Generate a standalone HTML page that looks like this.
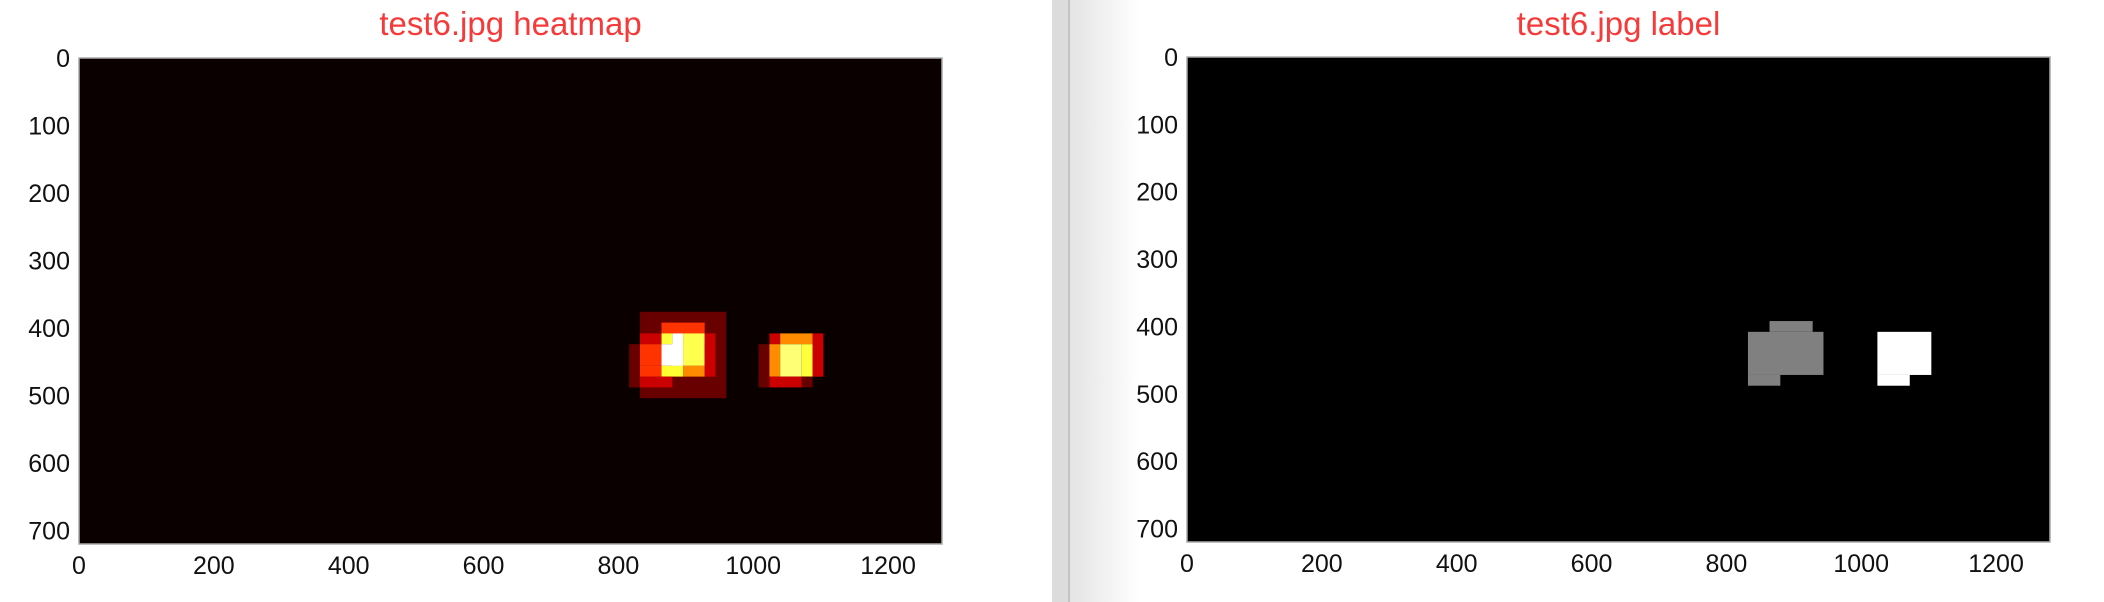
<!DOCTYPE html>
<html><head><meta charset="utf-8"><style>
body{margin:0;width:2104px;height:602px;background:#fff;overflow:hidden;font-family:"Liberation Sans",sans-serif}
svg{position:absolute;left:0;top:0}
</style></head><body>
<svg id="c" width="2104" height="602">
<defs><linearGradient id="g" x1="0" x2="1"><stop offset="0" stop-color="#e4e4e4"/><stop offset="1" stop-color="#fff"/></linearGradient></defs>
<rect x="1052" y="0" width="16" height="602" fill="#dcdcdc"/>
<rect x="1068" y="0" width="2" height="602" fill="#c4c4c4"/>
<rect x="1070" y="0" width="70" height="602" fill="url(#g)"/>
</svg>
<script>
const xTicks=[0,200,400,600,800,1000,1200];
const yTicks=[0,100,200,300,400,500,600,700];
// heat cells: x0,y0,x1,y1 (image px) and heat value (0..1), painted in order
const heatX0=[832,816,864,832,864,880,896,928,832,864,928,832,864,896,928,832,1008,1024,1040,1088,1024,1040,1072,1088,1024,1072];
const heatY0=[376,424,392,408,408,408,408,408,424,424,424,456,456,456,456,472,424,408,408,408,424,424,424,424,472,472];
const heatX1=[960,832,928,864,880,896,928,944,864,896,944,864,896,928,944,880,1024,1040,1088,1104,1040,1072,1088,1104,1072,1088];
const heatY1=[504,488,408,424,424,456,456,472,456,456,456,472,472,472,472,488,488,424,424,472,472,472,472,472,488,488];
const heatV=[0.15,0.15,0.44,0.29,0.8,1,0.82,0.29,0.44,1,0.29,0.44,0.79,0.57,0.29,0.29,0.15,0.29,0.57,0.29,0.57,0.86,0.8,0.29,0.29,0.15];
// label cells: grey (1) and white (2)
const labX0=[832,864,832,1024,1024];
const labY0=[408,392,472,408,472];
const labX1=[944,928,880,1104,1072];
const labY1=[472,408,488,472,488];
const labV=[1,1,1,2,2];
const NS='http://www.w3.org/2000/svg';
const svg=document.getElementById('c');
function el(t,a,p){const e=document.createElementNS(NS,t);for(const k in a)e.setAttribute(k,a[k]);(p||svg).appendChild(e);return e;}
function hot(v){const r=Math.min(1,v/0.365),g=Math.max(0,Math.min(1,(v-0.365)/0.375)),b=Math.max(0,Math.min(1,(v-0.74)/0.26));return `rgb(${Math.round(r*255)},${Math.round(g*255)},${Math.round(b*255)})`;}
function panel(L,T,R,B,title,bg,name){
  const sx=x=>L+x*(R-L)/1280, sy=y=>T+y*(B-T)/720;
  const g=el('g',{});
  
  
  const t=el('text',{x:(L+R)/2,y:35,'text-anchor':'middle','font-size':33,fill:'#f53a3a'},g);
  t.textContent=title;
  
  
  const bgR=el('rect',{x:L,y:T,width:R-L,height:B-T,fill:bg},g);
  
  
  const cells=el('g',{},g);
  const frame=el('rect',{x:L,y:T,width:R-L,height:B-T,fill:'none',stroke:'#aaa','stroke-width':1.5},g);
  
  
  xTicks.forEach(v=>{const e=el('text',{x:sx(v),y:B+30,'text-anchor':'middle','font-size':25,fill:'#111'},g);e.textContent=v;
    
    });
  yTicks.forEach(v=>{const e=el('text',{x:L-9,y:sy(v)+9,'text-anchor':'end','font-size':25,fill:'#111'},g);e.textContent=v;
    
    });
  return {sx,sy,cells};
}
const p1=panel(79,58,942,544,'test6.jpg heatmap','#0b0000','heatmap-panel');
heatV.forEach((v,i)=>{const r=el('rect',{x:p1.sx(heatX0[i]),y:p1.sy(heatY0[i]),width:p1.sx(heatX1[i])-p1.sx(heatX0[i]),height:p1.sy(heatY1[i])-p1.sy(heatY0[i]),fill:hot(v)},p1.cells);
  
  });
const p2=panel(1187,57,2050,542,'test6.jpg label','#000','label-panel');
labV.forEach((v,i)=>{const r=el('rect',{x:p2.sx(labX0[i]),y:p2.sy(labY0[i]),width:p2.sx(labX1[i])-p2.sx(labX0[i]),height:p2.sy(labY1[i])-p2.sy(labY0[i]),fill:v==2?'#fff':'#808080'},p2.cells);
  
  });
</script>
</body></html>
